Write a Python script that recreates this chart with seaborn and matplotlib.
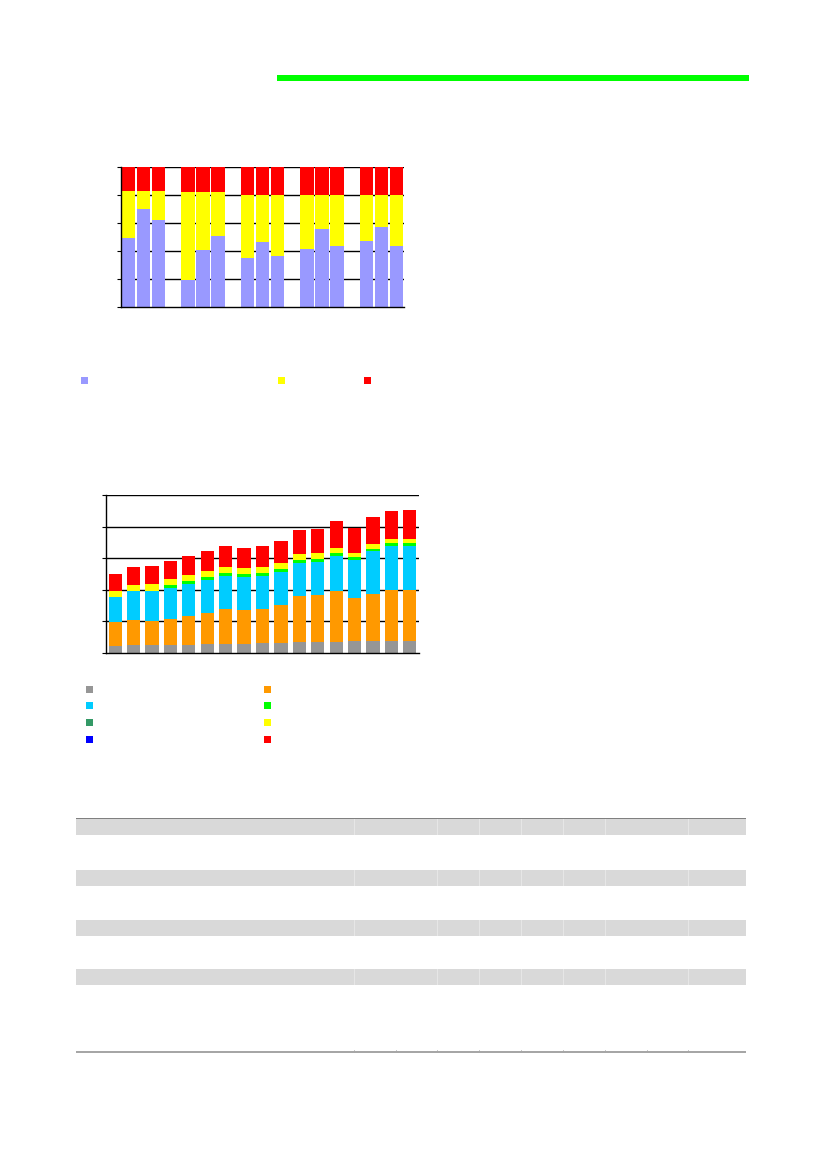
import numpy as np
import pandas as pd
import matplotlib
matplotlib.use("Agg")
import matplotlib.pyplot as plt
from matplotlib.patches import Rectangle
import seaborn as sns

# ---------------- data ----------------
# Chart 1: 100% stacked bars, 5 groups of 3 bars (shares in %)
groups1 = ["G1", "G2", "G3", "G4", "G5"]
members1 = ["a", "b", "c"]
share_purple = [49.2, 69.8, 62.0, 19.2, 40.9, 50.8, 35.2, 46.1, 36.6, 41.1, 55.6, 43.9, 47.3, 57.2, 43.7]
share_yellow = [33.9, 13.3, 21.1, 62.7, 41.0, 31.1, 44.8, 33.9, 43.4, 38.9, 24.4, 36.1, 32.7, 22.8, 36.3]
share_red = [16.9, 16.9, 16.9, 18.1, 18.1, 18.1, 20.0, 20.0, 20.0, 20.0, 20.0, 20.0, 20.0, 20.0, 20.0]

# Chart 2: stacked bars, 17 periods
periods2 = [f"P{i}" for i in range(1, 18)]
s_gray = [4.6, 4.8, 5.1, 4.8, 5.1, 5.5, 5.9, 5.9, 6.1, 6.3, 6.9, 6.9, 7.2, 7.4, 7.4, 7.4, 7.4]
s_orange = [15.0, 16.0, 15.1, 16.7, 18.5, 20.0, 21.9, 21.0, 21.7, 23.8, 29.3, 29.5, 32.0, 27.1, 30.1, 32.6, 32.6]
s_cyan = [15.8, 18.4, 19.2, 19.8, 20.2, 20.8, 21.0, 20.9, 21.0, 21.3, 20.6, 21.5, 22.3, 24.4, 26.9, 27.8, 27.8]
s_lime = [0.0, 0.0, 0.0, 1.6, 1.7, 1.7, 1.7, 1.9, 1.7, 1.9, 2.1, 1.7, 1.7, 1.7, 1.7, 1.7, 1.7]
s_seagreen = [0.0] * 17
s_blue = [0.0] * 17
s_yellow = [3.8, 3.7, 4.0, 4.0, 3.8, 4.0, 4.0, 3.8, 3.8, 3.5, 3.6, 3.6, 3.5, 2.6, 2.7, 2.5, 2.9]
s_red = [10.5, 11.8, 11.8, 11.6, 12.4, 12.8, 13.5, 13.2, 13.3, 13.9, 15.6, 15.5, 16.7, 15.7, 17.1, 18.1, 17.9]

C_PURPLE, C_YELLOW, C_RED = "#9999FF", "#FFFF00", "#FF0000"
C_GRAY, C_ORANGE, C_CYAN, C_LIME = "#969696", "#FF9900", "#00CCFF", "#00FF00"
C_SEAGREEN, C_BLUE = "#339966", "#0000FF"

W, H = 826, 1169
fig = plt.figure(figsize=(W / 100, H / 100), dpi=100)
fig.patch.set_facecolor("white")


def frac_box(x0, y0, x1, y1):
    return [x0 / W, 1 - y1 / H, (x1 - x0) / W, (y1 - y0) / H]


def add_rect(x0, y0, x1, y1, color, lw=0, ec=None, z=1):
    fig.add_artist(Rectangle((x0 / W, 1 - y1 / H), (x1 - x0) / W, (y1 - y0) / H,
                             transform=fig.transFigure, facecolor=color,
                             edgecolor=ec if ec else color, linewidth=lw, zorder=z))


def style_axes(ax, n_slots):
    ax.set_xlim(-0.5, n_slots - 0.5)
    ax.set_ylim(0, 100)
    ax.set_yticks([0, 20, 40, 60, 80, 100])
    ax.set_yticklabels([])
    ax.set_xticks([])
    ax.set_xticks(np.arange(-0.5, n_slots, 1.0), minor=True)
    ax.tick_params(axis="x", which="minor", length=3, width=0.8, color="black", direction="out")
    ax.tick_params(axis="y", length=3, width=0.8, color="black", direction="out", left=True)
    ax.set_xlabel("")
    ax.set_ylabel("")
    for s in ["top", "right"]:
        ax.spines[s].set_visible(False)
    for s in ["left", "bottom"]:
        ax.spines[s].set_visible(True)
        ax.spines[s].set_color("black")
        ax.spines[s].set_linewidth(1.0)
    for yv in [20, 40, 60, 80, 100]:
        ax.axhline(yv, color="black", lw=1.0, zorder=0.5)
    ax.set_facecolor("white")
    ax.grid(False)


sns.set_style("white")

# ---------------- top green rule ----------------
add_rect(277, 75, 749, 81, "#00FF00")

# ---------------- chart 1 ----------------
ax1 = fig.add_axes(frac_box(121, 167, 404, 307))
labels1 = [f"{g}{m}" for g in groups1 for m in members1]
order1 = []
for gi, g in enumerate(groups1):
    order1 += [f"{g}{m}" for m in members1]
    if gi < len(groups1) - 1:
        order1.append(f"gap{gi}")
df1 = pd.DataFrame({"bar": labels1, "purple": share_purple,
                    "yellow": share_yellow, "red": share_red})
df1["top_purple"] = df1["purple"]
df1["top_yellow"] = df1["purple"] + df1["yellow"]
df1["top_red"] = df1["top_yellow"] + df1["red"]
for col, c in [("top_red", C_RED), ("top_yellow", C_YELLOW), ("top_purple", C_PURPLE)]:
    sns.barplot(data=df1, x="bar", y=col, order=order1, color=c, saturation=1,
                width=0.9, errorbar=None, linewidth=0, ax=ax1, zorder=2)
style_axes(ax1, len(order1))

# legend 1 (markers only)
for x0, c in [(81, C_PURPLE), (278, C_YELLOW), (364, C_RED)]:
    add_rect(x0, 377, x0 + 7, 384, c)

# ---------------- chart 2 ----------------
ax2 = fig.add_axes(frac_box(106, 495, 419, 653))
series2 = [("gray", s_gray, C_GRAY), ("orange", s_orange, C_ORANGE), ("cyan", s_cyan, C_CYAN),
           ("lime", s_lime, C_LIME), ("seagreen", s_seagreen, C_SEAGREEN), ("blue", s_blue, C_BLUE),
           ("yellow", s_yellow, C_YELLOW), ("red", s_red, C_RED)]
df2 = pd.DataFrame({"period": periods2})
cum = np.zeros(len(periods2))
tops = []
for name, vals, c in series2:
    cum = cum + np.array(vals)
    df2["top_" + name] = cum
    tops.append(("top_" + name, c))
for col, c in reversed(tops):
    sns.barplot(data=df2, x="period", y=col, order=periods2, color=c, saturation=1,
                width=0.72, errorbar=None, linewidth=0, ax=ax2, zorder=2)
style_axes(ax2, len(periods2))

# legend 2 (markers only), 4 rows x 2 columns
leg2 = [(C_GRAY, C_ORANGE), (C_CYAN, C_LIME), (C_SEAGREEN, C_YELLOW), (C_BLUE, C_RED)]
for i, (cl, cr) in enumerate(leg2):
    yc = 689 + i * 16.7
    add_rect(86, yc - 3.5, 93, yc + 3.5, cl)
    add_rect(264, yc - 3.5, 271, yc + 3.5, cr)

# ---------------- table (empty, banded) ----------------
tx0, tx1 = 76, 746
bands = [(818, 835), (870, 886), (920, 936), (969, 985)]
dividers = [354.5, 437.5, 479.5, 521.5, 563.5, 605.5, 688.5]
bottom_ticks = [354.5, 396, 437.5, 479.5, 521.5, 563.5, 605.5, 647, 688.5]
for y0, y1 in bands:
    add_rect(tx0, y0, tx1, y1, "#D9D9D9")
    for xd in dividers:
        add_rect(xd - 0.5, y0, xd + 0.5, y1, "#E6E6E6", z=2)
add_rect(tx0, 817.5, tx1, 819, "#808080", z=3)
add_rect(tx0, 1051, tx1, 1052.5, "#A6A6A6", z=3)
for xd in bottom_ticks:
    add_rect(xd - 0.5, 1049.5, xd + 0.5, 1051, "#C8C8C8", z=3)

fig.savefig("out.png", dpi=100, facecolor="white")
